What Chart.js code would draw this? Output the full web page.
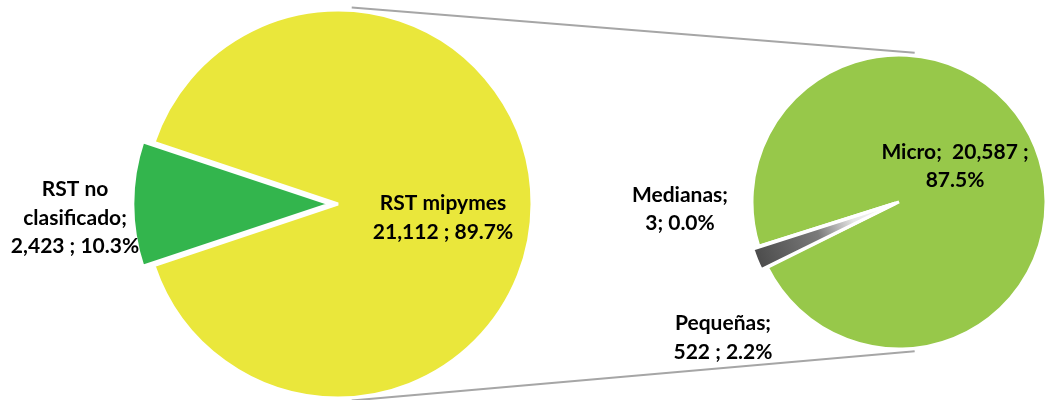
<!DOCTYPE html>
<html><head><meta charset="utf-8">
<script src="https://cdn.jsdelivr.net/npm/chart.js@4.4.0/dist/chart.umd.min.js"></script>
<style>
html,body{margin:0;padding:0;background:#fff;}
#wrap{position:relative;width:1046px;height:400px;overflow:hidden;background:#fff;}
#wrap canvas{position:absolute;left:0;top:0;}
</style></head><body>
<div id="wrap"><canvas id="left" width="1046" height="400"></canvas><canvas id="right" width="1046" height="400"></canvas></div>
<script>
// ---- data ----
const mainCategories = ['RST mipymes', 'RST no clasificado'];
const mainValues = [21112, 2423];
const subCategories = ['Micro', 'Pequeñas', 'Medianas'];
const subValues = [20587, 522, 3];

const grandTotal = mainValues.reduce((a, b) => a + b, 0);
const fmt = v => v.toLocaleString('en-US');
const pct = v => (v / grandTotal * 100).toFixed(1) + '%';

const mainLabels = [
  ['RST mipymes', fmt(mainValues[0]) + ' ; ' + pct(mainValues[0])],
  ['RST no', 'clasificado;', fmt(mainValues[1]) + ' ; ' + pct(mainValues[1])]
];
const subLabels = [
  ['Micro;  ' + fmt(subValues[0]) + ' ;', pct(subValues[0])],
  ['Pequeñas;', fmt(subValues[1]) + ' ; ' + pct(subValues[1])],
  ['Medianas;', fmt(subValues[2]) + '; ' + pct(subValues[2])]
];

// ---- layout (positions / styles) ----
const FONT = 'bold 21px Lato';
const LINE_H = 28.5;
const mainLabelOffsets = [[105, 13.5], [-263, 14]];
const subLabelOffsets = [[56, -36], [-176, 135.5], [-219, 7]];

function rotationFor(values, idx, centerScreenDeg) {
  const tot = values.reduce((a, b) => a + b, 0);
  let before = 0;
  for (let i = 0; i < idx; i++) before += values[i];
  const startDeg = before / tot * 360;
  const half = values[idx] / tot * 180;
  return centerScreenDeg - half - startDeg + 90;
}

const labelPlugin = (lines, offsets) => ({
  id: 'lbl',
  afterDatasetsDraw(chart) {
    const arc = chart.getDatasetMeta(0).data[0];
    const ctx = chart.ctx;
    ctx.save();
    ctx.font = FONT;
    ctx.fillStyle = '#000';
    ctx.textAlign = 'center';
    ctx.textBaseline = 'middle';
    lines.forEach((ls, i) => {
      const [dx, dy] = offsets[i];
      const y0 = arc.y + dy - (ls.length - 1) * LINE_H / 2;
      ls.forEach((t, j) => ctx.fillText(t, arc.x + dx, y0 + j * LINE_H));
    });
    ctx.restore();
  }
});

const common = {
  responsive: false,
  animation: false,
  events: [],
  plugins: { legend: { display: false }, tooltip: { enabled: false } }
};

const leftChart = new Chart(document.getElementById('left'), {
  type: 'pie',
  data: {
    labels: mainCategories,
    datasets: [{
      data: mainValues,
      backgroundColor: ['#EAE73B', '#33B54D'],
      borderColor: '#ffffff',
      borderWidth: 3,
      offset: [0, 32],
      radius: 194
    }]
  },
  options: Object.assign({}, common, {
    rotation: rotationFor(mainValues, 1, 180),
    layout: { padding: { left: 0, right: 370, top: 8, bottom: 0 } }
  }),
  plugins: [labelPlugin(mainLabels, mainLabelOffsets)]
});

function grayGrad(context) {
  const chart = context.chart;
  const a = chart.chartArea;
  if (!a) return '#555';
  const cx = (a.left + a.right) / 2, cy = (a.top + a.bottom) / 2;
  const g = chart.ctx.createRadialGradient(cx, cy, 0, cx, cy, 152);
  g.addColorStop(0, '#ffffff');
  g.addColorStop(0.3, '#e6e6e6');
  g.addColorStop(0.55, '#7a7a7a');
  g.addColorStop(1, '#4a4a4a');
  return g;
}

const connectorPlugin = {
  id: 'conn',
  beforeDatasetsDraw(chart) {
    const L = leftChart.getDatasetMeta(0).data[0];
    const R = chart.getDatasetMeta(0).data[0];
    const ctx = chart.ctx;
    const rad = d => d * Math.PI / 180;
    const pt = (arc, deg, extra) => [arc.x + (arc.outerRadius + extra) * Math.cos(rad(deg)), arc.y + (arc.outerRadius + extra) * Math.sin(rad(deg))];
    ctx.save();
    ctx.strokeStyle = '#A6A6A6';
    ctx.lineWidth = 2;
    [[-86, -84], [86, 84]].forEach(([a1, a2]) => {
      const p1 = pt(L, a1, 3), p2 = pt(R, a2, 3);
      ctx.beginPath();
      ctx.moveTo(p1[0], p1[1]);
      ctx.lineTo(p2[0], p2[1]);
      ctx.stroke();
    });
    ctx.restore();
  }
};

const rightChart = new Chart(document.getElementById('right'), {
  type: 'pie',
  data: {
    labels: subCategories,
    datasets: [{
      data: subValues,
      backgroundColor: ctx => ctx.dataIndex === 1 ? grayGrad(ctx) : (ctx.dataIndex === 0 ? '#97C84A' : '#3f3f3f'),
      borderColor: '#ffffff',
      borderWidth: 3,
      offset: [0, 14, 14],
      radius: 147
    }]
  },
  options: Object.assign({}, common, {
    rotation: rotationFor(subValues, 1, 158),
    layout: { padding: { left: 752, right: 0, top: 4, bottom: 0 } }
  }),
  plugins: [connectorPlugin, labelPlugin(subLabels, subLabelOffsets)]
});
</script>
</body></html>
